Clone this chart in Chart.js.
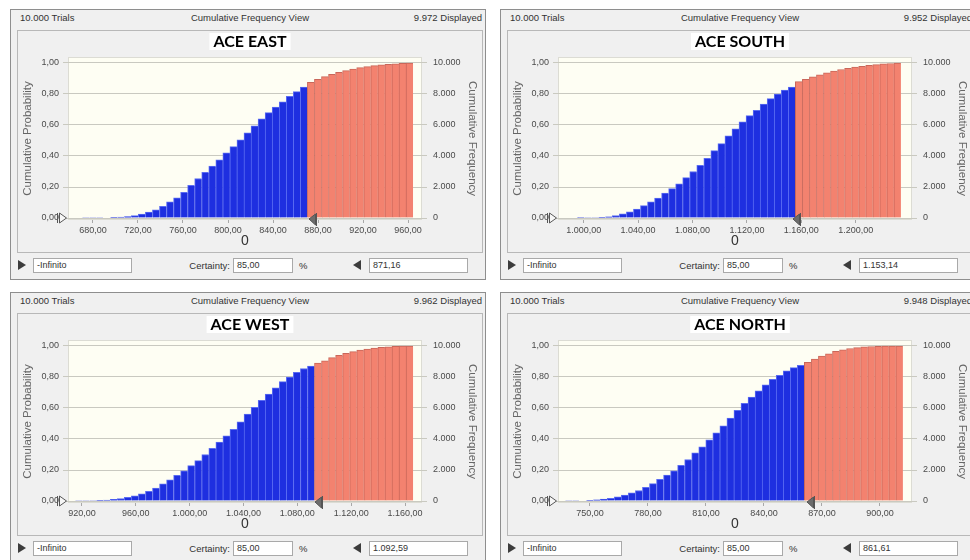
<!DOCTYPE html>
<html>
<head>
<meta charset="utf-8">
<script src="https://cdn.jsdelivr.net/npm/chart.js@4.4.1/dist/chart.umd.min.js"></script>
<style>
  body { margin: 0; width: 970px; height: 560px; overflow: hidden; background: #fff; position: relative;
         font-family: "Liberation Sans", Arial, sans-serif; }
  .panel { position: absolute; width: 476px; height: 271px; background: #f0f0f0; box-shadow: inset 0 0 0 1px #8e8e8e; }
  .hdr { position: absolute; top: 3px; font-size: 9.5px; color: #333; white-space: nowrap; }
  .inner { position: absolute; left: 7px; top: 21px; width: 466px; height: 223px; box-shadow: inset 0 0 0 1px #b8b8b8; }
  .inner canvas { position: absolute; left: 0; top: 0; }
  .field { position: absolute; top: 249px; height: 15px; background: #fff; border: 1px solid #a9a9a9; box-sizing: border-box;
           font-size: 9px; line-height: 13px; padding-left: 3px; color: #333; white-space: nowrap; }
  .lbl { position: absolute; top: 249px; line-height: 15px; font-size: 9.5px; color: #333; white-space: nowrap; }
  .tri-r { position: absolute; left: 8px; top: 251px; width: 0; height: 0; border-left: 8px solid #3c3c3c;
           border-top: 5px solid transparent; border-bottom: 5px solid transparent; }
  .tri-l { position: absolute; left: 343px; top: 251px; width: 0; height: 0; border-right: 8px solid #3c3c3c;
           border-top: 5px solid transparent; border-bottom: 5px solid transparent; }
</style>
</head>
<body>
<script>
// forecast summary
const trials = 10000
const certainty = 85
const panelNames = ['ACE EAST', 'ACE SOUTH', 'ACE WEST', 'ACE NORTH']
const displayed = [9972, 9952, 9962, 9948]
const upperCert = [871.16, 1153.14, 1092.59, 861.61]

// histogram bins: first bin edge and bin width of each forecast
const binStart = [670.22, 984.8, 914.8, 737.07]
const binWidth = [6.26, 5.176, 5.233, 3.642]

// cumulative probability of each bin
const eastCum = [0.001, 0.001, 0.002, 0.003, 0.004, 0.006, 0.009, 0.015, 0.025, 0.038,
  0.053, 0.075, 0.105, 0.13, 0.165, 0.21, 0.255, 0.295, 0.335, 0.375,
  0.42, 0.46, 0.505, 0.55, 0.595, 0.64, 0.68, 0.715, 0.75, 0.785,
  0.815, 0.845,
  0.875, 0.895, 0.912, 0.927, 0.94, 0.951, 0.961, 0.97, 0.977, 0.983, 0.988, 0.992, 0.995, 0.998, 1.0]
const southCum = [0, 0, 0.0005, 0.001, 0.002, 0.004, 0.008, 0.016, 0.027, 0.04,
  0.058, 0.08, 0.105, 0.128, 0.16, 0.19, 0.22, 0.26, 0.3, 0.34,
  0.385, 0.435, 0.48, 0.53, 0.575, 0.62, 0.66, 0.695, 0.735, 0.77,
  0.8, 0.825, 0.845,
  0.88, 0.895, 0.91, 0.924, 0.937, 0.948, 0.958, 0.966, 0.973, 0.979, 0.985, 0.99, 0.994, 0.997, 1.0]
const westCum = [0.001, 0.001, 0.002, 0.004, 0.006, 0.01, 0.016, 0.024, 0.034, 0.047,
  0.063, 0.083, 0.11, 0.137, 0.165, 0.195, 0.228, 0.26, 0.3, 0.34,
  0.38, 0.42, 0.462, 0.51, 0.56, 0.605, 0.65, 0.69, 0.73, 0.77,
  0.8, 0.83, 0.855, 0.87,
  0.89, 0.905, 0.925, 0.94, 0.953, 0.964, 0.973, 0.98, 0.986, 0.991, 0.995, 0.998, 0.999, 1.0]
const northCum = [0.001, 0.002, 0.003, 0.005, 0.008, 0.012, 0.018, 0.027, 0.039, 0.052,
  0.068, 0.088, 0.112, 0.14, 0.168, 0.195, 0.23, 0.268, 0.31, 0.35,
  0.395, 0.44, 0.485, 0.535, 0.585, 0.63, 0.67, 0.71, 0.75, 0.785,
  0.81, 0.84, 0.86, 0.875,
  0.895, 0.915, 0.935, 0.95, 0.965, 0.976, 0.984, 0.99, 0.994, 0.997, 0.998, 0.999, 1.0, 1.0]

// axis ticks
const eastTicks = [680, 720, 760, 800, 840, 880, 920, 960]
const southTicks = [1000, 1040, 1080, 1120, 1160, 1200]
const westTicks = [920, 960, 1000, 1040, 1080, 1120, 1160]
const northTicks = [750, 780, 810, 840, 870, 900]
const probTicks = [0, 0.2, 0.4, 0.6, 0.8, 1]
const freqTicks = [0, 2000, 4000, 6000, 8000, 10000]

// view ranges
const xRange = [[657.8, 972.4], [981.1, 1241.4], [909.6, 1172.6], [733.45, 916.6]]
const yRange = [-0.0129, 1.0387]
const panelPos = [[10, 9], [500, 9], [10, 292], [500, 292]]

const blueFill = '#1e2fe0'
const blueEdge = '#5a6cf2'
const redFill = '#f3826f'
const redEdge = '#c9675a'
const tickColor = '#4a4a4a'

Chart.defaults.font.family = '"Liberation Sans", Arial, sans-serif'

// 1234.5 -> "1.234,50"
function fmt(v, dec) {
  const s = Number(v).toFixed(dec).split('.')
  const int = s[0].replace(/\B(?=(\d{3})+(?!\d))/g, '.')
  return s[1] ? int + ',' + s[1] : int
}

const plotBack = {
  id: 'plotBack',
  beforeDraw(chart) {
    const { ctx, chartArea: a } = chart
    ctx.save()
    ctx.fillStyle = '#fefef3'
    ctx.fillRect(a.left, a.top, a.right - a.left, a.bottom - a.top)
    ctx.strokeStyle = '#dcdcd4'
    ctx.strokeRect(a.left + 0.5, a.top + 0.5, a.right - a.left - 1, a.bottom - a.top - 1)
    // white box behind the title
    const t = chart.options.plugins.title
    ctx.font = 'bold ' + t.font.size + 'px ' + t.font.family
    const w = ctx.measureText(t.text).width + 8
    ctx.fillStyle = '#ffffff'
    ctx.fillRect(chart.width / 2 - w / 2, 3, w, 17)
    ctx.restore()
  }
}

// certainty grabbers on the zero line
const grabbers = {
  id: 'grabbers',
  afterDraw(chart, args, opts) {
    const { ctx, chartArea: a } = chart
    const y = chart.scales.y.getPixelForValue(0)
    ctx.save()
    ctx.lineWidth = 1
    ctx.strokeStyle = '#555'
    // lower bound: -infinity
    let x = a.left - 10
    ctx.fillStyle = '#f6f6f6'
    ctx.beginPath()
    ctx.moveTo(x + 1.5, y - 5)
    ctx.lineTo(x + 8.5, y)
    ctx.lineTo(x + 1.5, y + 5)
    ctx.closePath()
    ctx.fill(); ctx.stroke()
    ctx.beginPath(); ctx.moveTo(x - 0.5, y - 5); ctx.lineTo(x - 0.5, y + 5); ctx.stroke()
    // upper bound
    x = Math.round(chart.scales.x.getPixelForValue(opts.cert))
    ctx.fillStyle = '#6c6c6c'
    ctx.beginPath()
    ctx.moveTo(x + 1, y + 1)
    ctx.lineTo(x + 7.5, y - 4)
    ctx.lineTo(x + 7.5, y + 7)
    ctx.closePath()
    ctx.fill(); ctx.stroke()
    ctx.beginPath(); ctx.moveTo(x + 8.5, y - 5); ctx.lineTo(x + 8.5, y + 8); ctx.stroke()
    ctx.restore()
  }
}

const cums = [eastCum, southCum, westCum, northCum]
const xTicks = [eastTicks, southTicks, westTicks, northTicks]

function addPanel(i) {
  const el = document.createElement('div')
  el.className = 'panel'
  el.style.left = panelPos[i][0] + 'px'
  el.style.top = panelPos[i][1] + 'px'
  el.innerHTML =
    '<div class="hdr" style="left:10px">' + fmt(trials, 0) + ' Trials</div>' +
    '<div class="hdr" style="left:0;width:480px;text-align:center">Cumulative Frequency View</div>' +
    '<div class="hdr" style="right:4px">' + fmt(displayed[i], 0) + ' Displayed</div>' +
    '<div class="inner"><canvas width="466" height="223"></canvas></div>' +
    '<div class="tri-r"></div>' +
    '<div class="field" style="left:23px;width:99px">-Infinito</div>' +
    '<div class="lbl" style="left:160px;width:60px;text-align:right">Certainty:</div>' +
    '<div class="field" style="left:223px;width:60px">' + fmt(certainty, 2) + '</div>' +
    '<div class="lbl" style="left:289px">%</div>' +
    '<div class="tri-l"></div>' +
    '<div class="field" style="left:359px;width:99px">' + fmt(upperCert[i], 2) + '</div>'
  document.body.appendChild(el)

  const start = binStart[i], width = binWidth[i], cert = upperCert[i]
  const bars = cums[i].map((v, k) => ({ x: start + width * (k + 0.5), y: v }))
  const lowSide = bars.map(b => b.x < cert)

  new Chart(el.querySelector('canvas'), {
    type: 'bar',
    data: {
      datasets: [{
        data: bars,
        backgroundColor: lowSide.map(b => b ? blueFill : redFill),
        borderColor: lowSide.map(b => b ? blueEdge : redEdge),
        borderWidth: { left: 1, top: 1, right: 0, bottom: 0 },
        barPercentage: 1,
        categoryPercentage: 1
      }]
    },
    plugins: [plotBack, grabbers],
    options: {
      responsive: false,
      animation: false,
      layout: { padding: 0 },
      plugins: {
        legend: { display: false },
        tooltip: { enabled: false },
        grabbers: { cert: cert },
        title: {
          display: true,
          text: panelNames[i],
          color: '#000',
          font: { family: 'Lato', weight: 'bold', size: 16 },
          padding: { top: 2, bottom: 5.8 }
        }
      },
      scales: {
        x: {
          type: 'linear',
          offset: false,
          min: xRange[i][0],
          max: xRange[i][1],
          afterBuildTicks: s => { s.ticks = xTicks[i].map(v => ({ value: v })) },
          afterFit: s => { s.height = 33 },
          ticks: { autoSkip: false, maxRotation: 0, padding: 2, color: tickColor, font: { size: 9 }, callback: v => fmt(v, 2) },
          grid: { offset: false, drawOnChartArea: false, tickLength: 3, color: '#a8a8a8' },
          border: { display: false },
          title: { display: true, text: '0', color: '#333', font: { size: 14 }, padding: { top: 0, bottom: 3 } }
        },
        y: {
          min: yRange[0],
          max: yRange[1],
          afterBuildTicks: s => { s.ticks = probTicks.map(v => ({ value: v })) },
          afterFit: s => { s.width = 51 },
          ticks: { padding: 4, color: tickColor, font: { size: 9 }, callback: v => fmt(v, 2) },
          grid: { color: '#c9c9c0', tickLength: 5 },
          border: { display: false },
          title: { display: true, text: 'Cumulative Probability', color: '#666', font: { size: 11.5 }, padding: { top: 4, bottom: 0 } }
        },
        y2: {
          position: 'right',
          min: yRange[0] * trials,
          max: yRange[1] * trials,
          afterBuildTicks: s => { s.ticks = freqTicks.map(v => ({ value: v })) },
          afterFit: s => { s.width = 61 },
          ticks: { padding: 6, color: tickColor, font: { size: 9 }, callback: v => fmt(v, 0) },
          grid: { drawOnChartArea: false, tickLength: 5, color: '#c9c9c0' },
          border: { display: false },
          title: { display: true, text: 'Cumulative Frequency', color: '#666', font: { size: 11.5 }, padding: { top: 4, bottom: 0 } }
        }
      }
    }
  })
}

for (let i = 0; i < 4; i++) addPanel(i)
</script>
</body>
</html>
